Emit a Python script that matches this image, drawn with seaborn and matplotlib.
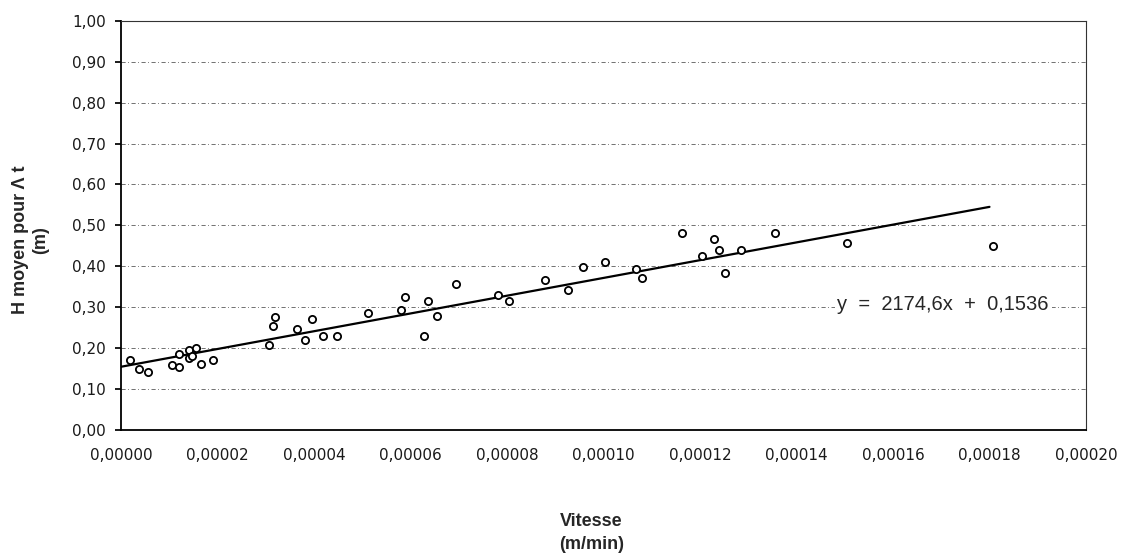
import matplotlib
matplotlib.use("Agg")
import matplotlib.pyplot as plt
import seaborn as sns
import numpy as np
import pandas as pd
from matplotlib.ticker import FuncFormatter

# Data
vitesse = [1.9e-6, 3.8e-6, 5.7e-6, 1.06e-5, 1.21e-5, 1.20e-5, 1.40e-5, 1.42e-5, 1.47e-5,
           1.55e-5, 1.66e-5, 1.90e-5, 3.06e-5, 3.16e-5, 3.19e-5, 3.65e-5, 3.81e-5, 3.95e-5,
           4.19e-5, 4.47e-5, 5.13e-5, 5.80e-5, 5.88e-5, 6.29e-5, 6.36e-5, 6.56e-5, 6.94e-5,
           7.81e-5, 8.04e-5, 8.79e-5, 9.26e-5, 9.57e-5, 1.0025e-4, 1.068e-4, 1.079e-4,
           1.162e-4, 1.204e-4, 1.229e-4, 1.239e-4, 1.252e-4, 1.285e-4, 1.355e-4, 1.504e-4,
           1.807e-4]
h_moyen = [0.169, 0.149, 0.140, 0.158, 0.152, 0.186, 0.195, 0.176, 0.181,
           0.199, 0.161, 0.171, 0.208, 0.254, 0.276, 0.245, 0.218, 0.270,
           0.230, 0.230, 0.285, 0.292, 0.324, 0.228, 0.315, 0.279, 0.356,
           0.329, 0.315, 0.366, 0.341, 0.398, 0.411, 0.394, 0.371,
           0.481, 0.424, 0.466, 0.440, 0.384, 0.439, 0.482, 0.457,
           0.449]
slope = 2174.6
intercept = 0.1536
line_x = [0.0, 0.00018]
x_ticks = [0.0, 0.00002, 0.00004, 0.00006, 0.00008, 0.00010, 0.00012, 0.00014, 0.00016, 0.00018, 0.00020]
y_ticks = [0.0, 0.1, 0.2, 0.3, 0.4, 0.5, 0.6, 0.7, 0.8, 0.9, 1.0]
equation = "y  =  2174,6x  +  0,1536"

sns.set_theme(style="white")
plt.rcParams['font.family'] = ['Liberation Sans', 'DejaVu Sans']

fig = plt.figure(figsize=(11.22, 5.53), dpi=100)
ax = fig.add_axes([0.1078, 0.2233, 0.8601, 0.7387])

df = pd.DataFrame({"x": vitesse, "y": h_moyen})
line_df = pd.DataFrame({"x": line_x, "y": [slope * v + intercept for v in line_x]})

for yv in y_ticks[1:]:
    ax.axhline(yv, color="0.35", lw=0.6, linestyle=(0, (5, 3, 1, 3)), zorder=0)

sns.lineplot(data=line_df, x="x", y="y", ax=ax, color="black", lw=1.6, zorder=2)
sns.scatterplot(data=df, x="x", y="y", ax=ax, marker="o", s=27,
                facecolor="white", edgecolor="black", linewidth=1.3, zorder=3)

ax.set_xlim(0, 0.0002)
ax.set_ylim(0, 1.0)
ax.set_xticks(x_ticks)
ax.set_yticks(y_ticks)
ax.xaxis.set_major_formatter(FuncFormatter(lambda v, p: f"{v:.5f}".replace(".", ",")))
ax.yaxis.set_major_formatter(FuncFormatter(lambda v, p: f"{v:.2f}".replace(".", ",")))
ax.tick_params(axis="both", labelsize=11, color="black", bottom=True, left=True)
ax.tick_params(axis="y", length=4, direction="out", pad=7)
ax.tick_params(axis="x", length=0, pad=13)
for lab in ax.get_xticklabels() + ax.get_yticklabels():
    lab.set_family(['DejaVu Sans'])
    lab.set_color("0.1")

for side in ["left", "bottom"]:
    ax.spines[side].set_color("black")
    ax.spines[side].set_linewidth(1.3)
for side in ["right", "top"]:
    ax.spines[side].set_color("0.2")
    ax.spines[side].set_linewidth(0.8)
    ax.spines[side].set_linestyle((0, (1, 1)))

ax.set_xlabel("")
ax.set_ylabel("H moyen pour Λ t\n(m)", fontsize=13, fontweight="bold",
              linespacing=1.3)
ax.yaxis.set_label_coords(-0.074, 0.464)
fig.text(0.527, 0.0365, "Vitesse\n(m/min)", ha="center", va="center", fontsize=13,
         fontweight="bold", linespacing=1.45)

ax.text(0.0001704, 0.307, equation, fontsize=14.5, ha="center", va="center",
        bbox=dict(facecolor="white", edgecolor="none", pad=2), zorder=4)

fig.savefig("out.png", dpi=100, facecolor="white")
